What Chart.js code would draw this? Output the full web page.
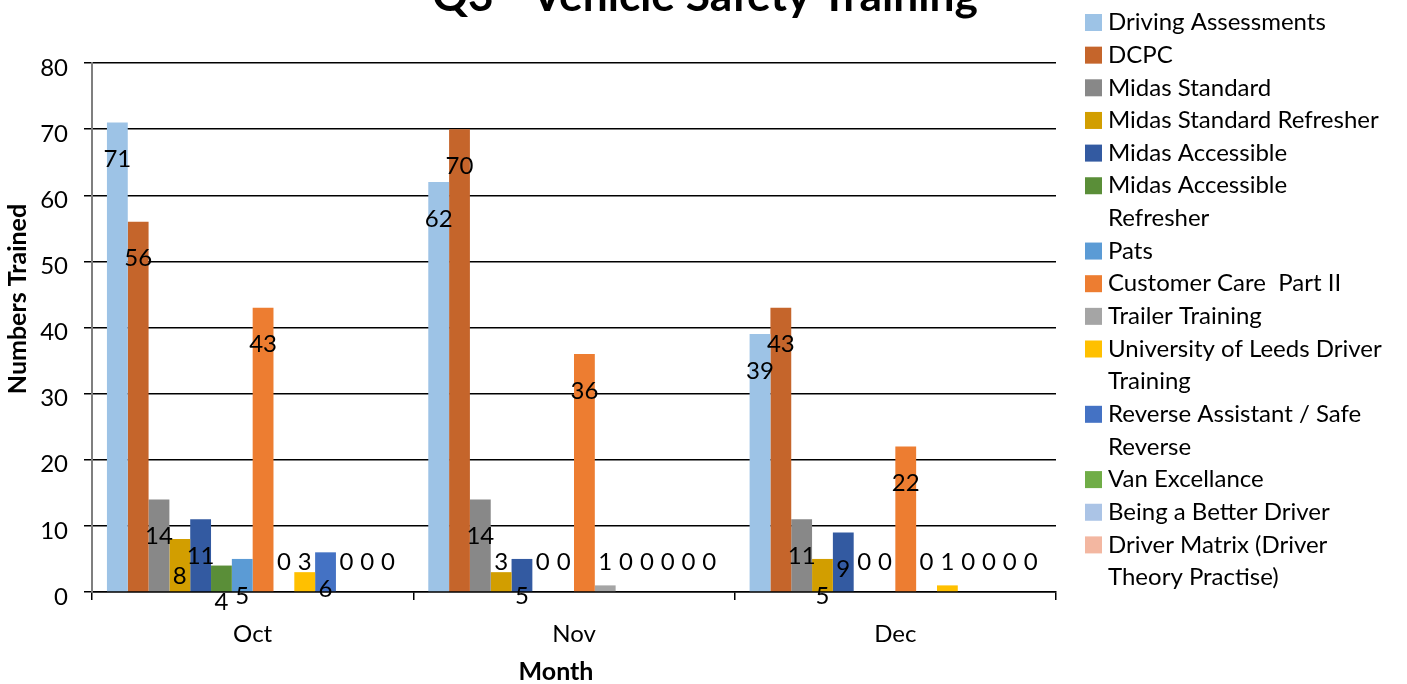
<!DOCTYPE html>
<html>
<head>
<meta charset="utf-8">
<title>Q3 - Vehicle Safety Training</title>
<script src="https://cdn.jsdelivr.net/npm/chart.js@4/dist/chart.umd.min.js"></script>
<style>
  html, body { margin: 0; padding: 0; background: #fff; overflow: hidden; }
  #wrap { width: 1407px; height: 684px; position: relative; }
</style>
</head>
<body>
<div id="wrap"><canvas id="chart" width="1407" height="684"></canvas></div>
<script>
// Months on the category axis
const months = ['Oct', 'Nov', 'Dec'];

// Course names (a "\n" marks where the legend entry wraps)
const courseNames = [
  'Driving Assessments',
  'DCPC',
  'Midas Standard',
  'Midas Standard Refresher',
  'Midas Accessible',
  'Midas Accessible\nRefresher',
  'Pats',
  'Customer Care  Part II',
  'Trailer Training',
  'University of Leeds Driver\nTraining',
  'Reverse Assistant / Safe\nReverse',
  'Van Excellance',
  'Being a Better Driver',
  'Driver Matrix (Driver\nTheory Practise)'
];

// Numbers trained per course, Oct / Nov / Dec
const drivingAssessments       = [71, 62, 39];
const dcpc                     = [56, 70, 43];
const midasStandard            = [14, 14, 11];
const midasStandardRefresher   = [8, 3, 5];
const midasAccessible          = [11, 5, 9];
const midasAccessibleRefresher = [4, 0, 0];
const pats                     = [5, 0, 0];
const customerCarePartII       = [43, 36, 22];
const trailerTraining          = [0, 1, 0];
const uniLeedsDriverTraining   = [3, 0, 1];
const reverseAssistant         = [6, 0, 0];
const vanExcellance            = [0, 0, 0];
const beingABetterDriver       = [0, 0, 0];
const driverMatrix             = [0, 0, 0];

// Value axis ticks
const yTicks = [0, 10, 20, 30, 40, 50, 60, 70, 80];

const seriesValues = [
  drivingAssessments, dcpc, midasStandard, midasStandardRefresher,
  midasAccessible, midasAccessibleRefresher, pats, customerCarePartII,
  trailerTraining, uniLeedsDriverTraining, reverseAssistant,
  vanExcellance, beingABetterDriver, driverMatrix
];

const seriesColors = [
  '#9DC3E6', '#C5652B', '#888888', '#D29E00', '#335AA1', '#5A8E38', '#5B9BD5',
  '#ED7D31', '#A5A5A5', '#FFC000', '#4472C4', '#70AD47', '#ABC4E6', '#F3B7A1'
];

const FONT = 'Lato, "Open Sans", "Liberation Sans", sans-serif';
const TEXT_SIZE = 24;

// Value labels drawn on each bar
const valueLabels = {
  id: 'valueLabels',
  afterDatasetsDraw(chart) {
    const ctx = chart.ctx;
    const base = chart.scales.y.getPixelForValue(0);
    ctx.save();
    ctx.font = TEXT_SIZE + 'px ' + FONT;
    ctx.fillStyle = '#000';
    ctx.textAlign = 'center';
    ctx.textBaseline = 'middle';
    chart.data.datasets.forEach((ds, i) => {
      chart.getDatasetMeta(i).data.forEach((bar, j) => {
        let y = bar.y + 37;
        if (y > base + 12) y = base - 30;
        ctx.fillText(String(ds.data[j]), bar.x, y);
      });
    });
    ctx.restore();
  }
};

// Chart title, axis titles and the wrapped legend
const decorations = {
  id: 'decorations',
  afterDraw(chart) {
    const ctx = chart.ctx;
    ctx.save();
    ctx.fillStyle = '#000';

    // title, sized to span its band above the plot
    const title = 'Q3 - Vehicle Safety Training';
    ctx.font = 'bold 40px ' + FONT;
    const size = 40 * 546 / ctx.measureText(title).width;
    ctx.font = 'bold ' + size.toFixed(1) + 'px ' + FONT;
    ctx.textAlign = 'center';
    ctx.textBaseline = 'alphabetic';
    ctx.fillText(title, 705, 11);

    // axis titles
    ctx.font = 'bold 25px ' + FONT;
    ctx.textBaseline = 'middle';
    ctx.fillText('Month', 556, 672);
    ctx.save();
    ctx.translate(18, 299);
    ctx.rotate(-Math.PI / 2);
    ctx.fillText('Numbers Trained', 0, 0);
    ctx.restore();

    // legend
    ctx.font = TEXT_SIZE + 'px ' + FONT;
    ctx.textAlign = 'left';
    const boxX = 1085, textX = 1108, firstY = 22.5, rowH = 32.65, box = 17;
    let row = 0;
    chart.data.datasets.forEach(ds => {
      const y = firstY + row * rowH;
      ctx.fillStyle = ds.backgroundColor;
      ctx.fillRect(boxX, y - box / 2, box, box);
      ctx.fillStyle = '#000';
      ds.label.split('\n').forEach(line => {
        ctx.fillText(line, textX, firstY + row * rowH);
        row++;
      });
    });
    ctx.restore();
  }
};

new Chart(document.getElementById('chart'), {
  type: 'bar',
  data: {
    labels: months,
    datasets: courseNames.map((name, i) => ({
      label: name,
      data: seriesValues[i],
      backgroundColor: seriesColors[i],
      borderWidth: 0,
      categoryPercentage: 0.907,
      barPercentage: 1
    }))
  },
  options: {
    responsive: false,
    devicePixelRatio: 1,
    animation: false,
    layout: { padding: { top: 63, right: 351, bottom: 0, left: 0 } },
    plugins: {
      legend: { display: false },
      title: { display: false },
      tooltip: { enabled: false }
    },
    scales: {
      x: {
        afterFit(scale) { scale.height = 92; },
        grid: {
          offset: true,
          drawOnChartArea: false,
          drawTicks: true,
          tickLength: 8,
          color: '#000',
          lineWidth: 1.5
        },
        border: { display: true, color: '#000', width: 1.5 },
        ticks: { color: '#000', font: { family: FONT, size: TEXT_SIZE }, padding: 20 }
      },
      y: {
        min: 0,
        max: 80,
        afterFit(scale) { scale.width = 92; },
        afterBuildTicks(scale) { scale.ticks = yTicks.map(v => ({ value: v })); },
        grid: {
          color: '#000',
          lineWidth: 1.5,
          tickLength: 8
        },
        border: { display: true, color: '#7F7F7F', width: 2 },
        ticks: {
          color: '#000',
          font: { family: FONT, size: TEXT_SIZE },
          padding: 16,
          labelOffset: 5
        }
      }
    }
  },
  plugins: [valueLabels, decorations]
});
</script>
</body>
</html>
